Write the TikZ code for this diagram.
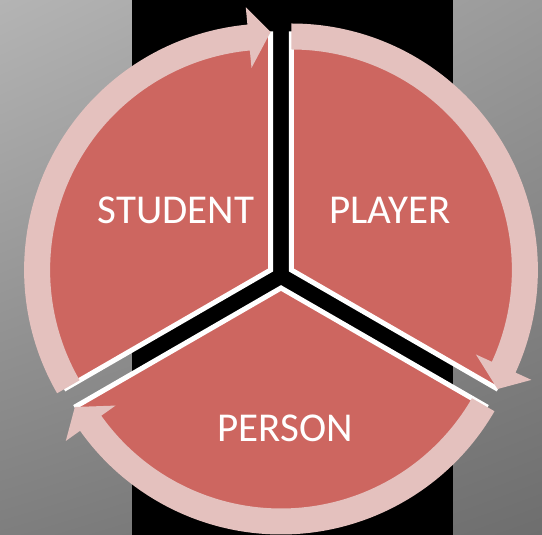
\documentclass[tikz,border=0pt]{standalone}
\usepackage{fontspec}
\setmainfont{Carlito}
\usetikzlibrary{shadings}
\definecolor{segred}{RGB}{205,102,96}
\definecolor{ringpink}{RGB}{228,193,190}
\definecolor{bgTL}{RGB}{180,180,180}
\definecolor{bgTR}{RGB}{154,154,154}
\definecolor{bgBL}{RGB}{126,126,126}
\definecolor{bgBR}{RGB}{110,110,110}
\begin{document}
\begin{tikzpicture}[x=1pt,y=1pt,
  seg/.style={fill=segred, draw=white, line width=5pt, line join=miter},
  ring/.style={fill=ringpink},
  lbl/.style={text=white, font=\fontsize{41}{49}\selectfont, inner sep=0pt}]
\useasboundingbox (0,0) rectangle (542,535);
\shade[upper left=bgTL, upper right=bgTR, lower left=bgBL, lower right=bgBR] (0,0) rectangle (542,535);
\fill[black] (132,0) rectangle (453,535);
% segment vertices
\coordinate (vs) at (270.6,265);
\coordinate (vp) at (291.4,265);
\coordinate (vq) at (281,247);
% segments
\draw[seg] (vs) -- ++(90:236) arc[start angle=90,end angle=210,radius=236] -- cycle;
\draw[seg] (vp) -- ++(-30:236) arc[start angle=-30,end angle=90,radius=236] -- cycle;
\draw[seg] (vq) -- ++(210:236) arc[start angle=210,end angle=330,radius=236] -- cycle;
% circular arrows
\begin{scope}[shift={(vs)}]
\fill[ring] (210:246.5) arc[start angle=210,end angle=95.4,radius=246.5]
  -- (95.4:264) -- (90:238) -- (95.4:203) -- (95.4:220.5)
  arc[start angle=95.4,end angle=210,radius=220.5] -- cycle;
\end{scope}
\begin{scope}[shift={(vp)}]
\fill[ring] (90:246.5) arc[start angle=90,end angle=-24.6,radius=246.5]
  -- (-24.6:264) -- (-30:238) -- (-24.6:203) -- (-24.6:220.5)
  arc[start angle=-24.6,end angle=90,radius=220.5] -- cycle;
\end{scope}
\begin{scope}[shift={(vq)}]
\fill[ring] (-30:246.5) arc[start angle=-30,end angle=-144.6,radius=246.5]
  -- (-144.6:264) -- (-150:238) -- (-144.6:203) -- (-144.6:220.5)
  arc[start angle=-144.6,end angle=-30,radius=220.5] -- cycle;
\end{scope}
% labels
\node[lbl] (student) at (176,325) {STUDENT};
\node[lbl] (player) at (390,325) {PLAYER};
\node[lbl] (person) at (285,107) {PERSON};
\end{tikzpicture}
\end{document}
